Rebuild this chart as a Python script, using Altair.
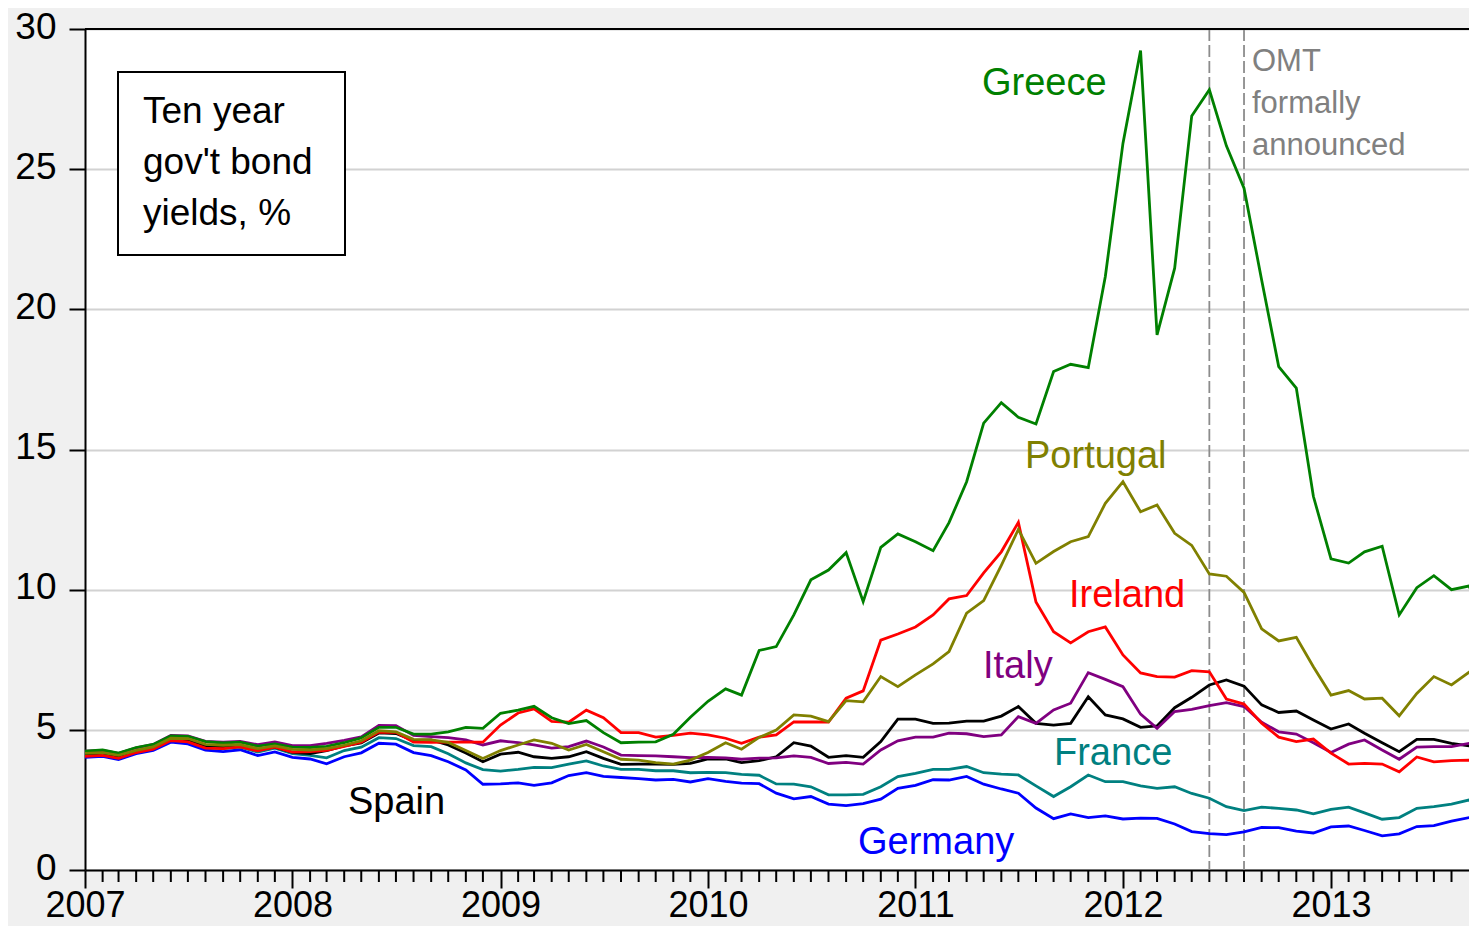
import altair as alt
import pandas as pd

# ---- data (monthly, Jan 2007 .. Oct 2013) ----
START = "2007-01-01"
N_MONTHS = 82
YEARS = [2007, 2008, 2009, 2010, 2011, 2012, 2013]

GERMANY = [
    4.02, 4.05, 3.94, 4.15, 4.27, 4.56, 4.50, 4.28, 4.22, 4.29, 4.08, 4.21,
    4.02, 3.96, 3.79, 4.04, 4.18, 4.52, 4.49, 4.19, 4.08, 3.86, 3.57, 3.06,
    3.07, 3.11, 3.02, 3.11, 3.37, 3.47, 3.34, 3.30, 3.26, 3.21, 3.23, 3.14,
    3.26, 3.16, 3.10, 3.08, 2.74, 2.54, 2.62, 2.35, 2.30, 2.37, 2.53, 2.91,
    3.02, 3.22, 3.21, 3.34, 3.06, 2.89, 2.74, 2.21, 1.83, 2.00, 1.87, 1.93,
    1.82, 1.85, 1.84, 1.64, 1.37, 1.30, 1.26, 1.36, 1.52, 1.51, 1.39, 1.32,
    1.54, 1.57, 1.41, 1.22, 1.29, 1.55, 1.58, 1.74, 1.87, 1.76]

FRANCE = [
    4.10, 4.13, 4.03, 4.22, 4.34, 4.63, 4.59, 4.37, 4.33, 4.38, 4.21, 4.35,
    4.15, 4.09, 4.00, 4.26, 4.38, 4.72, 4.69, 4.44, 4.40, 4.15, 3.82, 3.58,
    3.53, 3.59, 3.66, 3.65, 3.78, 3.89, 3.71, 3.59, 3.59, 3.54, 3.54, 3.47,
    3.48, 3.47, 3.41, 3.38, 3.07, 3.06, 2.97, 2.68, 2.68, 2.70, 2.97, 3.33,
    3.45, 3.59, 3.59, 3.69, 3.47, 3.42, 3.39, 3.00, 2.62, 2.97, 3.39, 3.15,
    3.15, 3.00, 2.91, 2.97, 2.73, 2.56, 2.26, 2.12, 2.24, 2.20, 2.14, 2.00,
    2.16, 2.24, 2.04, 1.81, 1.87, 2.20, 2.26, 2.35, 2.50, 2.35]

SPAIN = [
    4.10, 4.14, 4.04, 4.24, 4.36, 4.65, 4.63, 4.41, 4.38, 4.43, 4.30, 4.38,
    4.20, 4.15, 4.26, 4.43, 4.53, 4.89, 4.87, 4.62, 4.64, 4.46, 4.17, 3.86,
    4.13, 4.20, 4.04, 3.98, 4.04, 4.22, 3.98, 3.77, 3.78, 3.78, 3.77, 3.80,
    3.96, 3.96, 3.83, 3.90, 4.04, 4.54, 4.42, 4.02, 4.08, 4.02, 4.58, 5.38,
    5.38, 5.23, 5.24, 5.31, 5.31, 5.49, 5.83, 5.23, 5.17, 5.23, 6.18, 5.53,
    5.39, 5.09, 5.14, 5.79, 6.16, 6.60, 6.78, 6.56, 5.89, 5.62, 5.67, 5.35,
    5.03, 5.21, 4.88, 4.54, 4.22, 4.66, 4.66, 4.52, 4.43, 4.20]

ITALY = [
    4.24, 4.27, 4.16, 4.36, 4.48, 4.80, 4.78, 4.59, 4.56, 4.59, 4.47, 4.57,
    4.44, 4.44, 4.52, 4.62, 4.75, 5.16, 5.15, 4.80, 4.76, 4.72, 4.64, 4.46,
    4.61, 4.54, 4.46, 4.35, 4.40, 4.60, 4.39, 4.10, 4.08, 4.07, 4.04, 4.01,
    4.02, 4.00, 3.95, 3.99, 4.00, 4.07, 4.02, 3.80, 3.84, 3.78, 4.28, 4.61,
    4.74, 4.74, 4.88, 4.86, 4.76, 4.82, 5.47, 5.23, 5.71, 5.95, 7.04, 6.80,
    6.54, 5.56, 5.05, 5.65, 5.73, 5.86, 5.97, 5.83, 5.27, 4.93, 4.85, 4.54,
    4.19, 4.49, 4.64, 4.28, 3.95, 4.38, 4.40, 4.40, 4.52, 4.30]

IRELAND = [
    4.05, 4.09, 3.98, 4.19, 4.31, 4.62, 4.57, 4.35, 4.33, 4.39, 4.25, 4.38,
    4.21, 4.22, 4.27, 4.41, 4.56, 4.92, 4.91, 4.56, 4.55, 4.56, 4.56, 4.56,
    5.17, 5.60, 5.75, 5.30, 5.27, 5.70, 5.43, 4.90, 4.90, 4.74, 4.80, 4.88,
    4.82, 4.70, 4.52, 4.74, 4.82, 5.28, 5.28, 5.28, 6.13, 6.39, 8.20, 8.42,
    8.67, 9.10, 9.67, 9.79, 10.60, 11.35, 12.40, 9.56, 8.50, 8.10, 8.50, 8.67,
    7.67, 7.03, 6.90, 6.88, 7.11, 7.07, 6.10, 5.92, 5.24, 4.74, 4.58, 4.67,
    4.17, 3.78, 3.80, 3.78, 3.50, 4.03, 3.86, 3.90, 3.92, 3.60]

GREECE = [
    4.24, 4.28, 4.17, 4.37, 4.48, 4.78, 4.77, 4.58, 4.53, 4.56, 4.42, 4.50,
    4.38, 4.37, 4.41, 4.54, 4.71, 5.09, 5.09, 4.85, 4.85, 4.93, 5.09, 5.05,
    5.59, 5.70, 5.84, 5.43, 5.22, 5.33, 4.90, 4.54, 4.56, 4.57, 4.84, 5.45,
    6.02, 6.46, 6.24, 7.83, 7.97, 9.10, 10.35, 10.70, 11.32, 9.57, 11.51, 11.99,
    11.71, 11.39, 12.39, 13.85, 15.94, 16.67, 16.15, 15.91, 17.78, 18.04, 17.92, 21.17,
    25.92, 29.23, 19.09, 21.47, 26.90, 27.83, 25.83, 24.32, 21.05, 17.96, 17.19, 13.33,
    11.10, 10.95, 11.35, 11.55, 9.10, 10.07, 10.50, 10.00, 10.13, 8.60]

PORTUGAL = [
    4.16, 4.19, 4.09, 4.27, 4.39, 4.70, 4.69, 4.48, 4.45, 4.47, 4.33, 4.43,
    4.30, 4.28, 4.33, 4.45, 4.61, 4.97, 4.93, 4.66, 4.64, 4.55, 4.26, 3.98,
    4.26, 4.46, 4.64, 4.52, 4.28, 4.48, 4.22, 3.95, 3.92, 3.83, 3.78, 3.92,
    4.19, 4.54, 4.31, 4.73, 4.99, 5.53, 5.49, 5.29, 6.04, 6.00, 6.90, 6.54,
    6.96, 7.35, 7.79, 9.16, 9.61, 10.87, 12.15, 10.94, 11.36, 11.71, 11.89, 13.08,
    13.85, 12.78, 13.02, 12.01, 11.58, 10.56, 10.48, 9.90, 8.60, 8.17, 8.30, 7.25,
    6.24, 6.40, 6.10, 6.13, 5.50, 6.30, 6.90, 6.60, 7.06, 6.30]

COUNTRIES = ["Germany", "France", "Spain", "Italy", "Ireland", "Greece", "Portugal"]
SERIES = [GERMANY, FRANCE, SPAIN, ITALY, IRELAND, GREECE, PORTUGAL]
COLORS = ["#0000ff", "#008080", "#000000", "#800080", "#ff0000", "#008000", "#808000"]

EVENT_DATES = ["2012-06-01T00:00:00", "2012-08-01T00:00:00"]
BOX_LINES = ["Ten year", "gov't bond", "yields, %"]
OMT_LINES = ["OMT", "formally", "announced"]

# ---- layout ----
W, H = 1384, 841
FONT = "Liberation Sans"

months = pd.date_range(START, periods=N_MONTHS, freq="MS")
month_str = months.strftime("%Y-%m-%dT00:00:00").tolist()

x_scale = alt.Scale(domain=[alt.DateTime(year=2007, month=1, date=1),
                            alt.DateTime(year=2013, month=8, date=31, hours=19)])
y_scale = alt.Scale(domain=[0, 30], nice=False)

x_axis = alt.Axis(values=[alt.DateTime(year=y, month=1, date=1) for y in YEARS],
                  format="%Y", tickSize=18, tickWidth=2, tickColor="black",
                  domainColor="black", domainWidth=2, labelFontSize=36,
                  labelFont=FONT, labelColor="black", labelPadding=0,
                  labelFlush=False, labelOverlap=False, grid=False)
y_axis = alt.Axis(values=[0, 5, 10, 15, 20, 25, 30], tickSize=16, tickWidth=2,
                  tickColor="black", domainColor="black", domainWidth=2,
                  labelFontSize=37, labelFont=FONT, labelColor="black",
                  labelPadding=13, labelOffset=-2, grid=True,
                  gridColor="#d2d2d2", gridWidth=2)

dummy = pd.DataFrame({"k": [0]})
layers = []

# event lines
ev = pd.DataFrame({"date": EVENT_DATES})
layers.append(alt.Chart(ev).mark_rule(color="#8c8c8c", strokeWidth=1.8,
                                      strokeDash=[12, 4]).encode(
    x=alt.X("date:T", scale=x_scale, axis=x_axis, title=None),
    y=alt.value(0), y2=alt.value(H)))

# series lines
for name, vals, col in zip(COUNTRIES, SERIES, COLORS):
    df = pd.DataFrame({"date": month_str, "value": vals})
    layers.append(alt.Chart(df).mark_line(strokeWidth=2.8, clip=True, color=col).encode(
        x=alt.X("date:T", scale=x_scale, axis=x_axis, title=None),
        y=alt.Y("value:Q", scale=y_scale, axis=y_axis, title=None)))

# minor (monthly) ticks
minor = pd.DataFrame({"date": [m for m, d in zip(month_str, months)
                               if d.month != 1 and d <= pd.Timestamp("2013-08-31")]})
layers.append(alt.Chart(minor).mark_rule(color="black", strokeWidth=2).encode(
    x=alt.X("date:T", scale=x_scale, axis=x_axis, title=None),
    y=alt.value(H), y2=alt.value(H + 12)))

# top frame line
layers.append(alt.Chart(dummy).mark_rule(color="black", strokeWidth=2).encode(
    x=alt.value(0), x2=alt.value(W), y=alt.value(0)))

# text box
layers.append(alt.Chart(dummy).mark_rect(fill="white", stroke="black", strokeWidth=2).encode(
    x=alt.value(33), x2=alt.value(260), y=alt.value(43), y2=alt.value(226)))
layers.append(alt.Chart(dummy).mark_text(text=BOX_LINES, align="left", baseline="alphabetic",
                                         fontSize=37, lineHeight=51, font=FONT,
                                         color="black").encode(
    x=alt.value(58), y=alt.value(94)))

# OMT annotation
layers.append(alt.Chart(dummy).mark_text(text=OMT_LINES, align="left", baseline="alphabetic",
                                         fontSize=31, lineHeight=42, font=FONT,
                                         color="#808080").encode(
    x=alt.value(1167), y=alt.value(42)))

# series labels
LABEL_POS = {"Greece": (897, 66), "Portugal": (940, 439), "Ireland": (984, 578),
             "Italy": (898, 649), "France": (969, 736), "Spain": (263, 785),
             "Germany": (773, 825)}
for name, col in zip(COUNTRIES, COLORS):
    px, py = LABEL_POS[name]
    layers.append(alt.Chart(dummy).mark_text(text=name, align="left", baseline="alphabetic",
                                             fontSize=38, font=FONT, color=col).encode(
        x=alt.value(px), y=alt.value(py)))

chart = alt.layer(*layers).properties(
    width=W, height=H,
    padding={"left": 77, "top": 21, "right": 0, "bottom": 56},
    autosize=alt.AutoSizeParams(type="none"),
).configure(background="#f0f0f0").configure_view(fill="white", stroke="transparent")

chart.save("out.html", embed_options={"renderer": "svg", "actions": False})
